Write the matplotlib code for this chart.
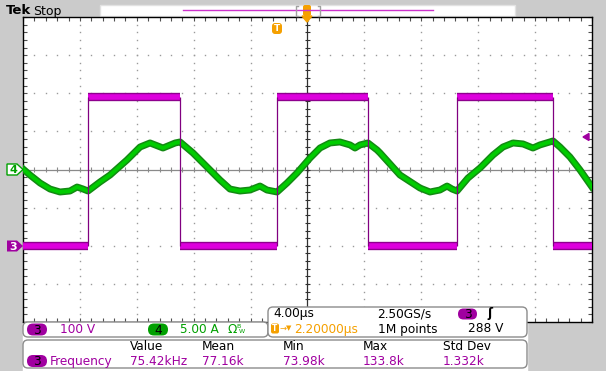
import numpy as np
import matplotlib.pyplot as plt
import matplotlib.patheffects as pe
from matplotlib.patches import FancyBboxPatch, Rectangle, Polygon

W, H = 606, 371

# channel 4 current (A) vs time (us)
t_us = [-20.0, -19.51, -18.80, -18.10, -17.40, -16.70, -16.20, -15.78, -15.43,
        -14.59, -13.88, -12.69, -11.77, -11.07, -10.16, -9.30, -8.96,
        -8.05, -6.85, -6.15, -5.45, -4.75, -4.04, -3.34, -2.85, -2.14,
        -1.44, -0.74, 0.18, 0.88, 1.58, 2.28, 2.99, 3.34, 3.69, 4.25,
        4.89, 5.10, 6.50, 7.91, 8.61, 9.31, 9.81, 10.16, 10.51,
        11.28, 12.13, 13.04, 13.74, 14.45, 15.15, 15.85, 16.34, 17.26,
        17.75, 18.45, 19.16, 20.0]
amps = [0.07, -0.72, -1.77, -2.56, -2.95, -2.82, -2.30, -2.56, -2.82,
        -1.64, -0.72, 1.25, 2.95, 3.48, 2.82, 3.48, 3.61,
        2.17, -0.07, -1.38, -2.56, -2.82, -2.69, -2.17, -2.69, -2.95,
        -1.77, -0.46, 1.51, 2.82, 3.48, 3.61, 3.22, 2.82, 3.22, 3.48,
        2.56, 2.17, -0.72, -2.43, -2.95, -2.69, -2.17, -2.56, -2.82,
        -1.12, 0.20, 1.90, 2.95, 3.48, 3.35, 2.82, 3.22, 3.74,
        2.95, 1.64, -0.07, -2.30]

# channel 3 voltage square wave: edge times (us) and levels (V)
rise_us = [-15.41, -2.17, 10.53]
fall_us = [-8.96, 4.27, 17.28]
v_high = 390
v_low = 0

volts_per_div = 100
amps_per_div = 5
ch3_pos = -2.0  # divisions
ch4_pos = 0.0

head_labels = ["Value", "Mean", "Min", "Max", "Std Dev"]
freq_values = ["75.42kHz", "77.16k", "73.98k", "133.8k", "1.332k"]
col_x = [130, 202, 283, 363, 443]

purple = '#a000a0'
green = '#00a000'
orange = '#f5a000'
fs = 8.7

fig = plt.figure(figsize=(W / 100, H / 100), dpi=100, facecolor='#cbcbcb')

# background pieces
bg = fig.add_axes([0, 0, 1, 1], zorder=0)
bg.set_xlim(0, W)
bg.set_ylim(H, 0)
bg.axis('off')
bg.add_patch(Rectangle((23, 322), 504, 49, color='white'))
bg.add_patch(Rectangle((100, 4.5), 415, 11.5, facecolor='white', edgecolor='#e2e2e2', lw=1))

# graticule
ax = fig.add_axes([23 / W, (H - 322) / H, 569 / W, 305 / H], zorder=1)
ax.set_xlim(-20, 20)
ax.set_ylim(-4, 4)
ax.set_facecolor('white')
sub_x = np.arange(-20, 20.01, 0.8)
sub_y = np.arange(-4, 4.01, 0.2)
for gx in range(-16, 17, 4):
    if gx != 0:
        ax.plot(np.full_like(sub_y, gx), sub_y, ls='none', marker='s', ms=1.0,
                mew=0, color='#9a9a9a')
for gy in range(-3, 4):
    if gy != 0:
        ax.plot(sub_x, np.full_like(sub_x, gy), ls='none', marker='s', ms=1.0,
                mew=0, color='#9a9a9a')
ax.axhline(0, color='#8a8a8a', lw=0.9)
ax.axvline(0, color='#303030', lw=0.9)
ax.vlines(sub_x, -0.07, 0.07, color='#8a8a8a', lw=0.8)
ax.hlines(sub_y, -0.2, 0.2, color='#303030', lw=0.8)
ax.set_xticks(sub_x)
ax.set_yticks(sub_y)
ax.tick_params(direction='in', length=3, width=0.8, color='#505050',
               top=True, right=True, labelbottom=False, labelleft=False)
for s in ax.spines.values():
    s.set_color('black')
    s.set_linewidth(1)

# ch4 trace
ch4_div = np.array(amps) / amps_per_div + ch4_pos
ax.plot(t_us, ch4_div, color='#00cc00', lw=2.8, solid_joinstyle='round', zorder=3,
        path_effects=[pe.Stroke(linewidth=5, foreground='#138a13'), pe.Normal()])

# ch3 trace
hi = v_high / volts_per_div + ch3_pos
lo = v_low / volts_per_div + ch3_pos
band = [pe.Stroke(linewidth=6, foreground='#8e008e'), pe.Normal()]
for a, b in zip(rise_us, fall_us):
    ax.plot([a, b], [hi, hi], color='#dd00dd', lw=4, solid_capstyle='butt',
            zorder=4, path_effects=band)
for a, b in zip([-20] + fall_us, rise_us + [20]):
    ax.plot([a, b], [lo, lo], color='#dd00dd', lw=4, solid_capstyle='butt',
            zorder=4, path_effects=band)
ax.vlines(sorted(rise_us + fall_us), lo, hi, color='#800080', lw=0.9, zorder=5)

# overlay: top bar, markers, readouts
ui = fig.add_axes([0, 0, 1, 1], zorder=5)
ui.set_xlim(0, W)
ui.set_ylim(H, 0)
ui.axis('off')

ui.text(6, 11, "Tek", fontsize=9.5, fontweight='bold', va='center', color='black')
ui.text(33, 11, "Stop", fontsize=9, va='center', color='black')
ui.plot([183, 433], [10, 10], color='#cc33cc', lw=1)
ui.plot([298, 296, 296, 298], [5.5, 5.5, 15.5, 15.5], color='#a0a0a0', lw=1)
ui.plot([318, 320, 320, 318], [5.5, 5.5, 15.5, 15.5], color='#a0a0a0', lw=1)
ui.add_patch(FancyBboxPatch((303, 5), 8, 11, boxstyle='round,pad=0,rounding_size=2',
                            facecolor=orange, edgecolor='none'))
ui.add_patch(Polygon([(302, 16), (312, 16), (307, 22)], color=orange))
ui.add_patch(FancyBboxPatch((272, 23), 10, 11, boxstyle='round,pad=0,rounding_size=3',
                            facecolor=orange, edgecolor='none'))
ui.text(277, 28.5, "T", fontsize=6.5, fontweight='bold', color='white', ha='center', va='center')

# channel ground markers
ui.add_patch(Polygon([(7, 164), (17, 164), (23, 169.5), (17, 175), (7, 175)],
                     facecolor='white', edgecolor=green, lw=1))
ui.text(13.5, 170, "4", fontsize=8, color=green, ha='center', va='center', fontweight='bold')
ui.add_patch(Polygon([(7, 240.5), (17, 240.5), (23, 246), (17, 251.5), (7, 251.5)],
                     facecolor=purple, edgecolor='none'))
ui.text(13.5, 246.5, "3", fontsize=8, color='white', ha='center', va='center', fontweight='bold')
ui.add_patch(Polygon([(583, 137), (589, 133.5), (589, 140.5)], color=purple))


def box(x0, y0, x1, y1):
    ui.add_patch(FancyBboxPatch((x0, y0), x1 - x0, y1 - y0,
                                boxstyle='round,pad=0,rounding_size=5',
                                facecolor='white', edgecolor='#8c8c8c', lw=1))


def pill(x0, y0, x1, y1, color, label):
    r = (y1 - y0) / 2
    ui.add_patch(FancyBboxPatch((x0, y0), x1 - x0, y1 - y0,
                                boxstyle=f'round,pad=0,rounding_size={r}',
                                facecolor=color, edgecolor='none'))
    ui.text((x0 + x1) / 2, (y0 + y1) / 2 + 0.5, label, fontsize=fs, color='black',
            ha='center', va='center')


box(23, 322, 268, 337)
box(268, 307, 527, 337)
box(23, 340, 527, 368)

# channel scale box
pill(27, 323.5, 47, 335.5, purple, "3")
ui.text(60, 329.5, "100 V", fontsize=fs, color=purple, va='center')
pill(148, 323.5, 168, 335.5, green, "4")
ui.text(180, 329.5, "5.00 A", fontsize=fs, color=green, va='center')
ui.text(228, 329.5, "Ω", fontsize=fs, color=green, va='center')
ui.text(236, 326.5, "B", fontsize=4.5, color=green, va='center')
ui.text(239, 331.5, "W", fontsize=4.5, color=green, va='center')

# timebase / trigger box
ui.text(273, 314, "4.00µs", fontsize=fs, color='black', va='center')
ui.text(377, 314, "2.50GS/s", fontsize=fs, color='black', va='center')
pill(458, 308.5, 477, 319.5, purple, "3")
ui.text(487, 314, "ʃ", fontsize=fs, color='black', va='center', fontweight='bold')
ui.add_patch(FancyBboxPatch((271, 323.5), 8, 10, boxstyle='round,pad=0,rounding_size=2',
                            facecolor=orange, edgecolor='none'))
ui.text(275, 328.5, "T", fontsize=5.5, fontweight='bold', color='white', ha='center', va='center')
ui.text(279, 328.5, "→", fontsize=6, color=orange, va='center')
ui.text(286, 328.5, "▼", fontsize=5, color=orange, va='center')
ui.text(294, 329, "2.20000µs", fontsize=fs, color=orange, va='center')
ui.text(378, 329, "1M points", fontsize=fs, color='black', va='center')
ui.text(468, 329, "288 V", fontsize=fs, color='black', va='center')

# measurement box
for x, lab, val in zip(col_x, head_labels, freq_values):
    ui.text(x, 346.5, lab, fontsize=fs, color='black', va='center')
    ui.text(x, 361.5, val, fontsize=fs, color=purple, va='center')
pill(27, 355, 47, 367, purple, "3")
ui.text(50, 361.5, "Frequency", fontsize=fs, color=purple, va='center')

fig.savefig('out.png', dpi=100, facecolor=fig.get_facecolor())
